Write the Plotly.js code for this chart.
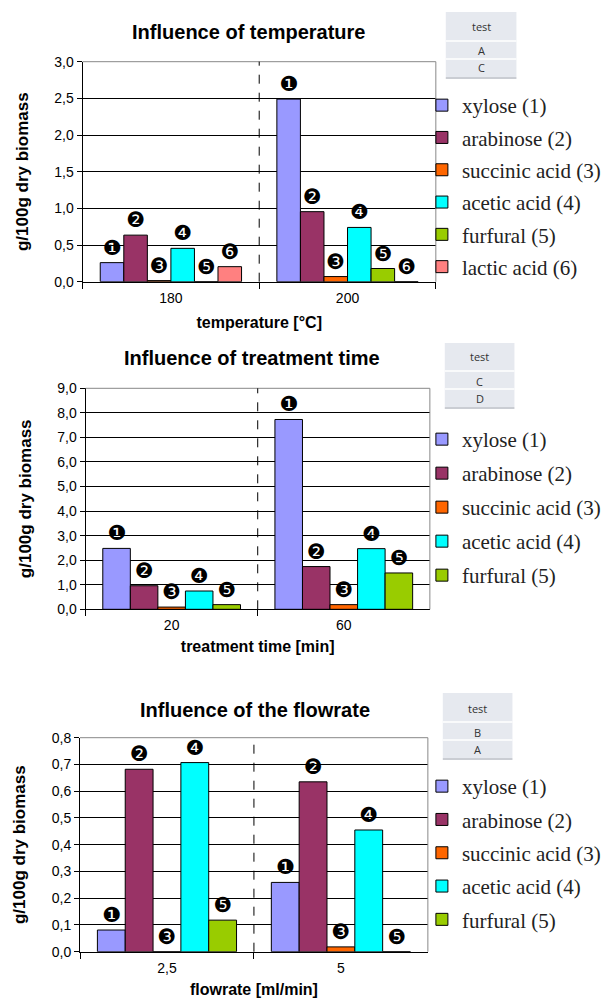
<!DOCTYPE html>
<html><head><meta charset="utf-8">
<script src="https://cdn.plot.ly/plotly-3.0.1.min.js"></script>
<style>html,body{margin:0;padding:0;background:#fff}#chart{width:606px;height:998px}</style>
</head><body><div id="chart"></div>
<script>
// ---------- DATA ----------
const seriesNames = ['xylose (1)', 'arabinose (2)', 'succinic acid (3)', 'acetic acid (4)', 'furfural (5)', 'lactic acid (6)'];
const seriesMarks = ['❶', '❷', '❸', '❹', '❺', '❻'];

const tempCategories = ['180', '200'];
const tempXylose = [0.26, 2.49];
const tempArabinose = [0.635, 0.955];
const tempSuccinic = [0.015, 0.07];
const tempAcetic = [0.455, 0.74];
const tempFurfural = [0, 0.18];
const tempLactic = [0.205, 0];

const timeCategories = ['20', '60'];
const timeXylose = [2.48, 7.73];
const timeArabinose = [0.96, 1.74];
const timeSuccinic = [0.09, 0.19];
const timeAcetic = [0.745, 2.47];
const timeFurfural = [0.19, 1.48];

const flowCategories = ['2,5', '5'];
const flowXylose = [0.081, 0.259];
const flowArabinose = [0.682, 0.635];
const flowSuccinic = [0, 0.018];
const flowAcetic = [0.707, 0.455];
const flowFurfural = [0.118, 0];

const tableHeader = 'test';
const tempTests = ['A', 'C'];
const timeTests = ['C', 'D'];
const flowTests = ['B', 'A'];

// ---------- STYLE ----------
const colors = ['#9999ff', '#993366', '#ff6600', '#00ffff', '#99cc00', '#ff8080'];
const W = 606, H = 998;
const px = x => x / W;
const py = y => 1 - y / H;

const charts = [
  {cats: tempCategories, series: [tempXylose, tempArabinose, tempSuccinic, tempAcetic, tempFurfural, tempLactic],
   xa: 'x', ya: 'y', lg: 'legend'},
  {cats: timeCategories, series: [timeXylose, timeArabinose, timeSuccinic, timeAcetic, timeFurfural],
   xa: 'x2', ya: 'y2', lg: 'legend2'},
  {cats: flowCategories, series: [flowXylose, flowArabinose, flowSuccinic, flowAcetic, flowFurfural],
   xa: 'x3', ya: 'y3', lg: 'legend3'}
];

const traces = [];
charts.forEach((c, ci) => {
  c.series.forEach((vals, si) => {
    traces.push({
      type: 'bar', x: c.cats, y: vals, name: seriesNames[si],
      xaxis: c.xa, yaxis: c.ya, legend: c.lg, legendgroup: 'c' + ci + 's' + si,
      marker: {color: colors[si], line: {color: '#000', width: 1}},
      text: vals.map(() => seriesMarks[si]), textposition: 'outside', cliponaxis: false,
      textfont: {family: 'DejaVu Sans', size: 21, color: '#000'},
      hoverinfo: 'skip'
    });
  });
});

const tickFont = {family: 'Liberation Sans', size: 14, color: '#000'};

function xAxis(dom, anchor, title, standoff) {
  return {domain: dom, anchor: anchor, type: 'category', showline: true, linecolor: '#000', linewidth: 1,
    ticks: 'outside', tickson: 'boundaries', ticklen: 6, tickcolor: '#000', tickfont: tickFont, ticklabelstandoff: 3,
    showgrid: false, fixedrange: true, automargin: false,
    title: {text: title, font: {family: 'Liberation Sans', size: 16, color: '#000', weight: 'bold'}, standoff: standoff}};
}
function yAxis(dom, anchor, range, dtick) {
  return {domain: dom, anchor: anchor, range: range, dtick: dtick, tickformat: '.1f', showline: true, linecolor: '#000',
    ticks: 'outside', ticklen: 5, tickcolor: '#000', tickfont: tickFont,
    showgrid: true, gridcolor: '#000', gridwidth: 1, zeroline: false, fixedrange: true, automargin: false,
    title: {text: 'g/100g dry biomass', font: {family: 'Liberation Sans', size: 17, color: '#000', weight: 'bold'}, standoff: 21}};
}

const legendBase = (y, gap) => ({x: px(424), xanchor: 'left', y: py(y), yanchor: 'top',
  font: {family: 'Liberation Serif', size: 21, color: '#222'},
  traceorder: 'grouped', tracegroupgap: gap, bgcolor: 'rgba(0,0,0,0)', itemclick: false});

const shapes = [];
const annotations = [];
// plot borders + dashed separators
[['x', 'y'], ['x2', 'y2'], ['x3', 'y3']].forEach(([xa, ya]) => {
  shapes.push({type: 'line', xref: xa + ' domain', yref: ya + ' domain', x0: 0, x1: 1, y0: 1, y1: 1, line: {color: '#888', width: 1}, layer: 'above'});
  shapes.push({type: 'line', xref: xa + ' domain', yref: ya + ' domain', x0: 1, x1: 1, y0: 0, y1: 1, line: {color: '#888', width: 1}, layer: 'above'});
  shapes.push({type: 'line', xref: xa, yref: ya + ' domain', x0: 0.5, x1: 0.5, y0: 0, y1: 1, line: {color: '#000', width: 1, dash: 'dash'}, layer: 'above'});
});

// small "test" tables
function table(x0, x1, yTop, ySep1, ySep2, yBot, rows, yText) {
  shapes.push({type: 'rect', xref: 'paper', yref: 'paper', x0: px(x0), x1: px(x1), y0: py(yBot), y1: py(yTop), fillcolor: '#e6e9ef', line: {width: 0}, layer: 'below'});
  [ySep1, ySep2].forEach(s => shapes.push({type: 'line', xref: 'paper', yref: 'paper', x0: px(x0), x1: px(x1), y0: py(s), y1: py(s), line: {color: '#fff', width: 1.5}}));
  shapes.push({type: 'line', xref: 'paper', yref: 'paper', x0: px(x0), x1: px(x1), y0: py(yBot + 1), y1: py(yBot + 1), line: {color: '#b8bcc4', width: 1.5}});
  [tableHeader].concat(rows).forEach((t, i) => annotations.push({xref: 'paper', yref: 'paper', x: px((x0 + x1) / 2), y: py(yText[i]),
    text: t, showarrow: false, xanchor: 'center', yanchor: 'middle', font: {family: 'Open Sans', size: 11, color: '#333'}}));
}
table(448, 519, 12, 41, 59, 77, tempTests, [26, 50, 68]);
table(447, 517, 343, 371, 389, 407, timeTests, [357, 381, 398]);
table(445, 515, 693, 722, 740, 758, flowTests, [708, 732, 749]);

const titleFont = {family: 'Liberation Sans', size: 20, color: '#000', weight: 'bold'};
annotations.push({xref: 'paper', yref: 'paper', x: px(253), y: py(358), text: 'Influence of treatment time', showarrow: false, xanchor: 'center', yanchor: 'middle', font: titleFont});
annotations.push({xref: 'paper', yref: 'paper', x: px(256), y: py(710), text: 'Influence of the flowrate', showarrow: false, xanchor: 'center', yanchor: 'middle', font: titleFont});

const layout = {
  width: W, height: H, margin: {l: 0, r: 0, t: 0, b: 0},
  paper_bgcolor: '#fff', plot_bgcolor: '#fff',
  separators: ', ',
  barmode: 'group', bargap: 0.2, bargroupgap: 0,
  title: {text: 'Influence of temperature', font: titleFont, x: px(250), xanchor: 'center', y: py(32), yanchor: 'middle', xref: 'paper', yref: 'paper'},
  xaxis: xAxis([px(83), px(438)], 'y', 'temperature [°C]', 12),
  yaxis: yAxis([py(281.7), py(61.7)], 'x', [0, 3], 0.5),
  xaxis2: xAxis([px(86), px(432)], 'y2', 'treatment time [min]', 8),
  yaxis2: yAxis([py(609.3), py(388.3)], 'x2', [0, 9], 1),
  xaxis3: xAxis([px(80.4), px(430)], 'y3', 'flowrate [ml/min]', 10),
  yaxis3: yAxis([py(951.7), py(737.7)], 'x3', [0, 0.8], 0.1),
  legend: legendBase(85, 2),
  legend2: legendBase(419, 3.7),
  legend3: legendBase(766, 3),
  shapes: shapes, annotations: annotations,
  showlegend: true
};

Plotly.newPlot('chart', traces, layout, {displayModeBar: false, staticPlot: true});
</script>
</body></html>
